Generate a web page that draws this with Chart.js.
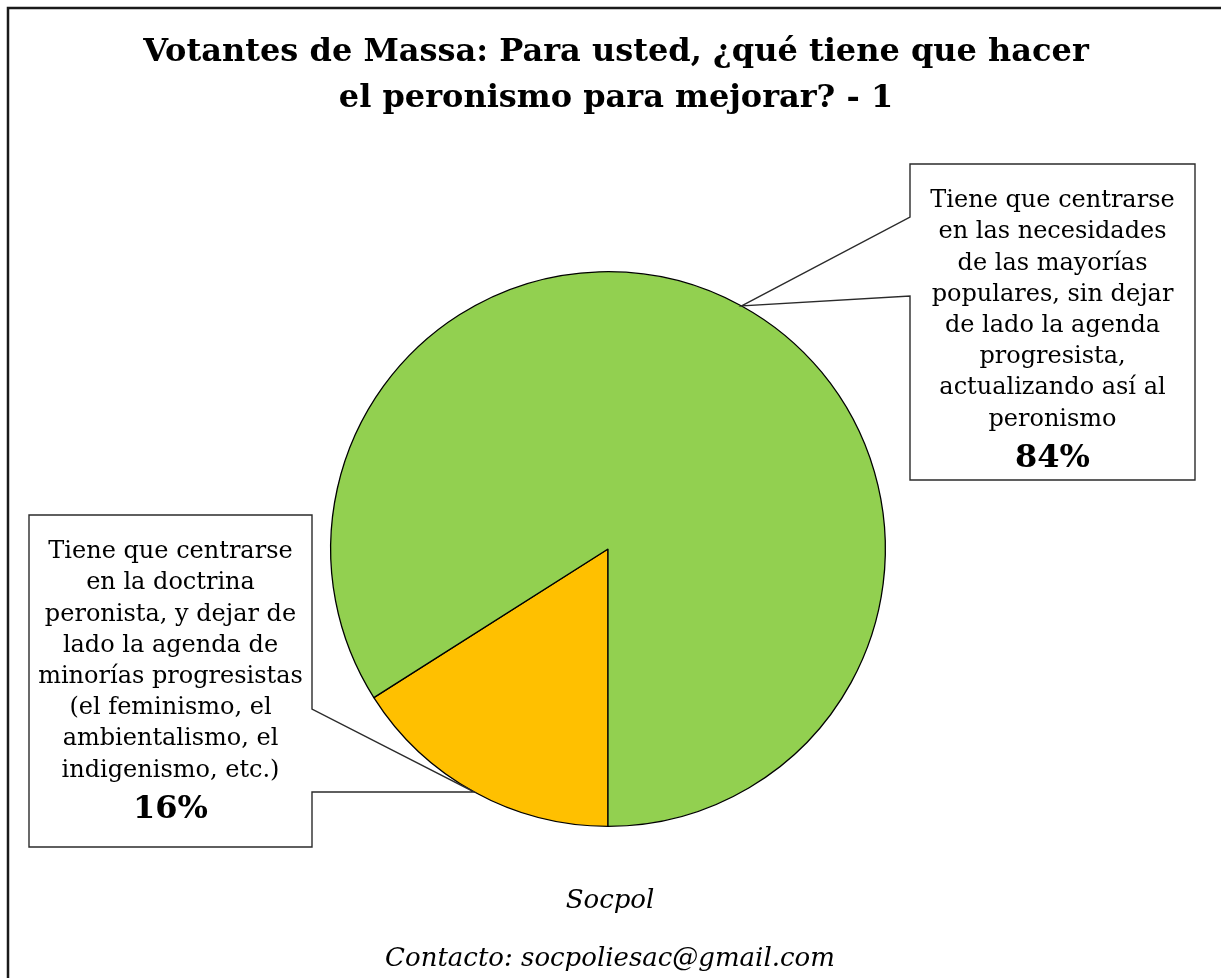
<!DOCTYPE html>
<html>
<head>
<meta charset="utf-8">
<script src="https://cdn.jsdelivr.net/npm/chart.js@4/dist/chart.umd.min.js"></script>
<style>
  body { margin: 0; background: #ffffff; }
  canvas { display: block; }
</style>
</head>
<body>
<canvas id="chart" width="1221" height="978"></canvas>
<script>
// ---------------------------------------------------------
// DATA
// ---------------------------------------------------------
const TITLE_LINES = [
  "Votantes de Massa: Para usted, ¿qué tiene que hacer",
  "el peronismo para mejorar? - 1",
];

const categories = [
  "Tiene que centrarse en la doctrina peronista, y dejar de lado la agenda de minorías progresistas (el feminismo, el ambientalismo, el indigenismo, etc.)",
  "Tiene que centrarse en las necesidades de las mayorías populares, sin dejar de lado la agenda progresista, actualizando así al peronismo",
];
const values = [16, 84];

// the same labels, broken into lines the way the boxes show them
const categoryLines = [
  [
    "Tiene que centrarse",
    "en la doctrina",
    "peronista, y dejar de",
    "lado la agenda de",
    "minorías progresistas",
    "(el feminismo, el",
    "ambientalismo, el",
    "indigenismo, etc.)",
  ],
  [
    "Tiene que centrarse",
    "en las necesidades",
    "de las mayorías",
    "populares, sin dejar",
    "de lado la agenda",
    "progresista,",
    "actualizando así al",
    "peronismo",
  ],
];

const FOOTER_LINES = ["Socpol", "Contacto: socpoliesac@gmail.com"];

const SLICE_COLORS = ["#FFC000", "#92D050"];

// where each callout box sits, and where its pointer leaves the box
const CALLOUTS = [
  { left: 29, top: 515, right: 312, bottom: 847, side: "right", baseTop: 709, baseBottom: 792 },
  { left: 910, top: 164, right: 1195, bottom: 480, side: "left", baseTop: 217, baseBottom: 296 },
];

const SERIF = "'DejaVu Serif', serif";

// ---------------------------------------------------------
// PLUGIN: frame, title, callout boxes and footer
// ---------------------------------------------------------
const decorations = {
  id: "decorations",
  afterDraw(chart) {
    const ctx = chart.ctx;
    const meta = chart.getDatasetMeta(0);

    ctx.save();

    // outer frame (runs off the right and bottom edges)
    ctx.strokeStyle = "#1a1a1a";
    ctx.lineWidth = 2.5;
    ctx.strokeRect(8, 8, 1240, 1000);

    // title
    ctx.fillStyle = "#000000";
    ctx.textAlign = "center";
    ctx.textBaseline = "middle";
    ctx.font = "bold 32px " + SERIF;
    TITLE_LINES.forEach((line, i) => {
      ctx.fillText(line, 616, 53 + i * 46);
    });

    // callouts
    CALLOUTS.forEach((box, i) => {
      const arc = meta.data[i];
      const mid = (arc.startAngle + arc.endAngle) / 2;
      const tipX = arc.x + Math.cos(mid) * arc.outerRadius;
      const tipY = arc.y + Math.sin(mid) * arc.outerRadius;

      ctx.beginPath();
      ctx.moveTo(box.left, box.top);
      ctx.lineTo(box.right, box.top);
      if (box.side === "right") {
        ctx.lineTo(box.right, box.baseTop);
        ctx.lineTo(tipX, tipY);
        ctx.lineTo(box.right, box.baseBottom);
      }
      ctx.lineTo(box.right, box.bottom);
      ctx.lineTo(box.left, box.bottom);
      if (box.side === "left") {
        ctx.lineTo(box.left, box.baseBottom);
        ctx.lineTo(tipX, tipY);
        ctx.lineTo(box.left, box.baseTop);
      }
      ctx.closePath();
      ctx.fillStyle = "#ffffff";
      ctx.fill();
      ctx.strokeStyle = "#2b2b2b";
      ctx.lineWidth = 1.4;
      ctx.stroke();

      const cx = (box.left + box.right) / 2;
      ctx.fillStyle = "#000000";
      ctx.font = "24px " + SERIF;
      const lines = categoryLines[i];
      const firstY = box.top + 37;
      lines.forEach((line, j) => {
        ctx.fillText(line, cx, firstY + j * 31.2);
      });
      ctx.font = "bold 32px " + SERIF;
      ctx.fillText(values[i] + "%", cx, firstY + (lines.length - 1) * 31.2 + 39);
    });

    // footer
    ctx.font = "italic 26px " + SERIF;
    ctx.fillStyle = "#000000";
    FOOTER_LINES.forEach((line, i) => {
      ctx.fillText(line, 610, 901 + i * 58);
    });

    ctx.restore();
  },
};

// ---------------------------------------------------------
// CHART
// ---------------------------------------------------------
new Chart(document.getElementById("chart"), {
  type: "pie",
  data: {
    labels: categories,
    datasets: [
      {
        data: values,
        backgroundColor: SLICE_COLORS,
        borderColor: "#000000",
        borderWidth: 1.3,
      },
    ],
  },
  options: {
    responsive: false,
    animation: false,
    rotation: 180,
    layout: {
      padding: { left: 330, right: 335, top: 271, bottom: 151 },
    },
    plugins: {
      legend: { display: false },
      tooltip: { enabled: false },
    },
  },
  plugins: [decorations],
});
</script>
</body>
</html>
